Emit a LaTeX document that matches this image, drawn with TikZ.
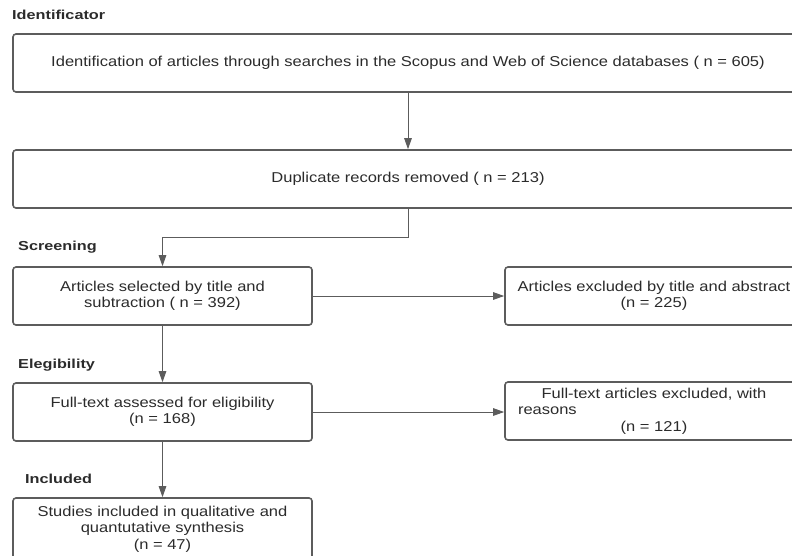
\documentclass[tikz,border=0pt]{standalone}
\usepackage{fontspec}
\setmainfont{Liberation Sans}[FakeStretch=1.155]
\newfontfamily\stagefont{Liberation Sans}[FakeStretch=1.25]
\usetikzlibrary{arrows.meta}
\definecolor{linegray}{HTML}{5C5C5C}
\definecolor{txtgray}{HTML}{2B2B2B}
\tikzset{
	flowbox/.style={draw=linegray, line width=1.6pt, rounded corners=3pt, rectangle,
		align=center, text=txtgray, font=\fontsize{14.3}{16.5}\selectfont, inner sep=0pt},
	stage/.style={anchor=west, text=txtgray, font=\stagefont\fontsize{13}{14}\selectfont\bfseries, inner sep=0pt},
	arr/.style={draw=linegray, line width=1pt, -{Triangle[length=11pt,width=7.5pt]}}
}

\begin{document}
\begin{tikzpicture}[x=1pt,y=-1pt]
	\useasboundingbox (0,0) rectangle (792,555);
	\clip (0,0) rectangle (792,555);

	\node[stage] (lidn) at (12,15) {Identificator};
	\node[stage] (lscr) at (18,247) {Screening};
	\node[stage] (lelg) at (18,365) {Elegibility};
	\node[stage] (linc) at (25,479) {Included};

	\node[flowbox, minimum width=790pt, minimum height=58pt] (idn) at (408,63)
	{Identification of articles through searches in the Scopus and Web of Science databases ( n = 605)};
	\node[flowbox, minimum width=790pt, minimum height=58pt] (dup) at (408,179)
	{Duplicate records removed ( n = 213)};

	\node[flowbox, minimum width=299pt, minimum height=58pt] (sel) at (162.5,296)
	{Articles selected by title and\\subtraction ( n = 392)};
	\node[flowbox, minimum width=298pt, minimum height=58pt] (exa) at (654,296)
	{Articles excluded by title and abstract\\(n = 225)};

	\node[flowbox, minimum width=299pt, minimum height=58pt] (ful) at (162.5,412)
	{Full-text assessed for eligibility\\(n = 168)};
	\node[flowbox, minimum width=298pt, minimum height=58pt] (exf) at (654,411)
	{Full-text articles excluded, with\\\makebox[272pt][l]{reasons}\\(n = 121)};

	\node[flowbox, minimum width=299pt, minimum height=62pt] (inc) at (162.5,529)
	{Studies included in qualitative and\\quantutative synthesis\\(n = 47)};

	\draw[arr] (idn) -- (dup);
	\draw[arr] (dup.south) -- ++(0,29) -| (sel.north);
	\draw[arr] (sel) -- (exa);
	\draw[arr] (sel) -- (ful);
	\draw[arr] (ful.east) -- (exf.west |- ful.east);
	\draw[arr] (ful) -- (inc);
\end{tikzpicture}
\end{document}
